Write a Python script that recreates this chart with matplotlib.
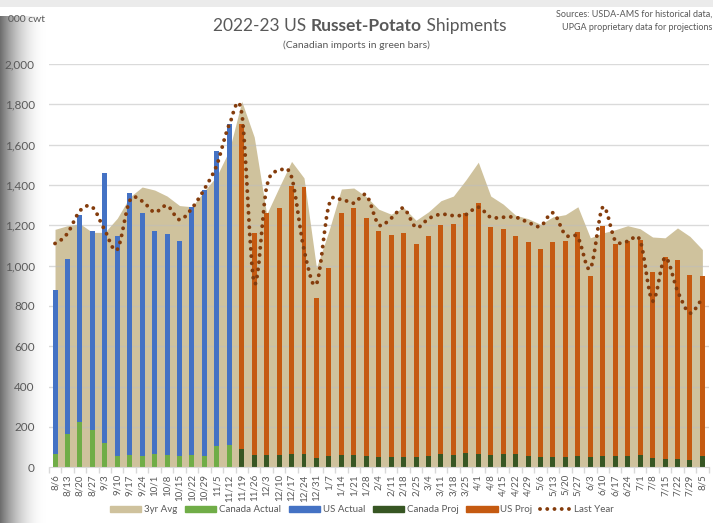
import numpy as np
import matplotlib
matplotlib.use("Agg")
import matplotlib.pyplot as plt
from matplotlib.path import Path
from matplotlib.patches import PathPatch, Patch, Rectangle
from matplotlib.lines import Line2D

# ---------------- data ----------------
weeks = ["8/6", "8/13", "8/20", "8/27", "9/3", "9/10", "9/17", "9/24", "10/1", "10/8",
         "10/15", "10/22", "10/29", "11/5", "11/12", "11/19", "11/26", "12/3", "12/10",
         "12/17", "12/24", "12/31", "1/7", "1/14", "1/21", "1/28", "2/4", "2/11", "2/18",
         "2/25", "3/4", "3/11", "3/18", "3/25", "4/1", "4/8", "4/15", "4/22", "4/29",
         "5/6", "5/13", "5/20", "5/27", "6/3", "6/10", "6/17", "6/24", "7/1", "7/8",
         "7/15", "7/22", "7/29", "8/5"]

avg_3yr = [1180, 1198, 1208, 1165, 1165, 1235, 1340, 1390, 1375, 1345, 1298, 1292, 1370,
           1445, 1572, 1815, 1638, 1255, 1388, 1517, 1435, 990, 1172, 1380, 1385, 1342,
           1280, 1255, 1288, 1225, 1267, 1322, 1345, 1425, 1513, 1345, 1305, 1250, 1233,
           1205, 1242, 1253, 1292, 1138, 1162, 1178, 1198, 1183, 1142, 1138, 1187, 1145,
           1080]

# actual weeks (8/6 - 11/12)
canada_actual = [65, 163, 227, 187, 120, 58, 62, 57, 65, 60, 55, 62, 57, 107, 112]
us_actual = [815, 872, 1023, 983, 1340, 1087, 1298, 1203, 1105, 1095, 1065, 1228, 1318,
             1463, 1588]

# projected weeks (11/19 - 8/5)
canada_proj = [92, 63, 60, 63, 68, 67, 48, 55, 60, 60, 57, 52, 53, 53, 52, 57, 68, 63, 72,
               67, 62, 67, 65, 57, 53, 53, 53, 55, 52, 58, 55, 58, 62, 45, 43, 42, 37, 55]
us_proj = [1608, 1097, 1202, 1224, 1329, 1325, 790, 932, 1203, 1225, 1181, 1120, 1099,
           1109, 1056, 1091, 1135, 1144, 1190, 1243, 1130, 1113, 1083, 1061, 1029, 1064,
           1069, 1113, 896, 1137, 1052, 1062, 1063, 925, 1002, 988, 918, 895]

last_year = [1110, 1160, 1272, 1290, 1175, 1080, 1322, 1320, 1265, 1298, 1228, 1285, 1380,
             1500, 1700, 1755, 915, 1390, 1470, 1440, 1080, 910, 1300, 1328, 1310, 1350,
             1203, 1235, 1285, 1190, 1233, 1255, 1248, 1253, 1290, 1240, 1240, 1240, 1215,
             1195, 1262, 1152, 1140, 985, 1290, 1125, 1120, 1125, 825, 1040, 875, 765, 832]

y_ticks = [0, 200, 400, 600, 800, 1000, 1200, 1400, 1600, 1800, 2000]

# ---------------- style ----------------
FONT = ["Lato", "DejaVu Sans"]
plt.rcParams["font.family"] = FONT
C_AVG = "#CFC29D"
C_CAN_A = "#70AD47"
C_US_A = "#4472C4"
C_CAN_P = "#375623"
C_US_P = "#C55A11"
C_LY = "#843C0C"
C_TXT = "#595959"
C_GRID = "#D9D9D9"

W, H = 713, 523
fig = plt.figure(figsize=(W / 100, H / 100), dpi=100)
fig.patch.set_facecolor("white")

# screenshot frame: top grey band and left gradient
fig.patches.append(Rectangle((0, 1 - 7 / H), 1, 7 / H, transform=fig.transFigure,
                             facecolor="#EBEBEB", edgecolor="none", zorder=-20))
gx = np.arange(46)
gval = (255 - 145 * (1 - gx / 46.0) ** 2) / 255.0
grad = np.ones((H - 16, 46, 3)) * gval[None, :, None]
fig.figimage(grad, xo=0, yo=0, zorder=-10)

x0_px, x1_px = 48.8, 708.6
y0_px, y1_px = 467.3, 64.0
ax = fig.add_axes([x0_px / W, (H - y0_px) / H, (x1_px - x0_px) / W, (y0_px - y1_px) / H])
ax.set_facecolor("none")

n = len(weeks)
x = np.arange(n)
na = len(us_actual)
xa = x[:na]
xp = x[na:]
bw = 0.4

# 3-yr average area
ax.fill_between(x, avg_3yr, 0, color=C_AVG, linewidth=0, zorder=1)

# gridlines
for t in y_ticks[1:]:
    ax.axhline(t, color="#BDBDBD", lw=1.0, alpha=0.55, zorder=1.5)

# stacked bars
ax.bar(xa, canada_actual, width=bw, color=C_CAN_A, zorder=2, linewidth=0)
ax.bar(xa, us_actual, width=bw, bottom=canada_actual, color=C_US_A, zorder=2, linewidth=0)
ax.bar(xp, canada_proj, width=bw, color=C_CAN_P, zorder=2, linewidth=0)
ax.bar(xp, us_proj, width=bw, bottom=canada_proj, color=C_US_P, zorder=2, linewidth=0)

# last year: smoothed dotted line (Bezier through weekly points)
ly = np.asarray(last_year, float)
verts = [(x[0], ly[0])]
codes = [Path.MOVETO]
for i in range(n - 1):
    pm = ly[i - 1] if i > 0 else ly[i]
    pp = ly[i + 2] if i + 2 < n else ly[i + 1]
    verts += [(x[i] + 1 / 3, ly[i] + (ly[i + 1] - pm) / 6),
              (x[i + 1] - 1 / 3, ly[i + 1] - (pp - ly[i]) / 6),
              (x[i + 1], ly[i + 1])]
    codes += [Path.CURVE4] * 3
dots = PathPatch(Path(verts, codes), fill=False, edgecolor=C_LY, lw=2.8,
                 linestyle=(0, (0.01, 1.85)), capstyle="round", zorder=3)
ax.add_patch(dots)

ax.set_xlim(-0.5, n - 0.5)
ax.set_ylim(0, 2000)
ax.set_yticks(y_ticks)
ax.set_yticklabels([f"{v:,}" for v in y_ticks])
ax.tick_params(axis="y", length=0, pad=10, labelsize=8.5, labelcolor=C_TXT)
ax.set_xticks(x)
ax.set_xticklabels(weeks, rotation=90)
ax.tick_params(axis="x", which="major", length=0, pad=5, labelsize=7, labelcolor=C_TXT)
ax.set_xticks(np.arange(-0.5, n, 1), minor=True)
ax.tick_params(axis="x", which="minor", length=4, color=C_GRID, width=1)
for s in ["top", "right", "left"]:
    ax.spines[s].set_visible(False)
ax.spines["bottom"].set_color(C_GRID)
ax.spines["bottom"].set_zorder(4)

# ---------------- texts ----------------
fig.text(8 / W, 1 - 19 / H, "000 cwt", fontsize=7.5, color=C_TXT, va="center", ha="left")
fig.text(712 / W, 1 - 14 / H, "Sources: USDA-AMS for historical data,", fontsize=6.5,
         color=C_TXT, ha="right", va="center")
fig.text(712 / W, 1 - 27 / H, "UPGA proprietary data for projections", fontsize=6.5,
         color=C_TXT, ha="right", va="center")

parts = [("2022-23 US ", "normal"), ("Russet-Potato", "bold"), (" Shipments", "normal")]
renderer = fig.canvas.get_renderer()
texts = []
widths = []
for s, wgt in parts:
    t = fig.text(0, 1 - 26 / H, s, fontsize=12.5, fontweight=wgt, color=C_TXT,
                 ha="left", va="center")
    bb = t.get_window_extent(renderer)
    texts.append(t)
    widths.append(bb.width)
total = sum(widths)
cur = 360 - total / 2
for t, w in zip(texts, widths):
    t.set_x(cur / W)
    cur += w
fig.text(356 / W, 1 - 45 / H, "(Canadian imports in green bars)", fontsize=7.5,
         color=C_TXT, ha="center", va="center")

# ---------------- legend ----------------
handles = [Patch(color=C_AVG), Patch(color=C_CAN_A), Patch(color=C_US_A),
           Patch(color=C_CAN_P), Patch(color=C_US_P),
           Line2D([], [], color=C_LY, lw=2.8, linestyle=(0, (0.01, 1.85)),
                  dash_capstyle="round")]
labels = ["3yr Avg", "Canada Actual", "US Actual", "Canada Proj", "US Proj", "Last Year"]
leg = fig.legend(handles, labels, loc="center", bbox_to_anchor=(362 / W, 1 - 510 / H),
                 ncol=6, frameon=False, fontsize=7, handlelength=3.2, handleheight=0.65,
                 columnspacing=0.8, handletextpad=0.3, labelcolor=C_TXT)

fig.savefig("out.png", dpi=100)
